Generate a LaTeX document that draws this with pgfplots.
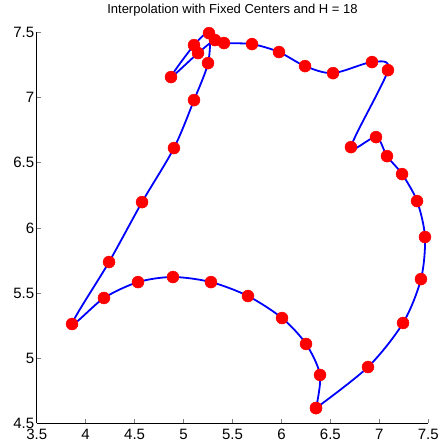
\documentclass[border=0pt]{standalone}
\usepackage{fontspec}
\setmainfont{Liberation Sans}
\usepackage{pgfplots}
\pgfplotsset{compat=1.18}

\pgfplotstableread{
x y
6.353 4.617
6.884 4.932
7.242 5.270
7.425 5.607
7.466 5.930
7.385 6.206
7.232 6.413
7.078 6.551
6.966 6.697
6.710 6.620
7.088 7.211
6.925 7.273
6.527 7.188
6.241 7.242
5.975 7.350
5.699 7.411
5.413 7.419
5.321 7.442
5.148 7.342
4.872 7.158
5.107 7.403
5.260 7.495
5.250 7.265
5.107 6.981
4.902 6.613
4.576 6.198
4.239 5.738
3.861 5.262
4.187 5.462
4.535 5.584
4.892 5.623
5.280 5.584
5.658 5.477
6.006 5.308
6.251 5.109
6.394 4.871
6.353 4.617
}\centers

\begin{document}
\begin{tikzpicture}
\begin{axis}[
    scale only axis,
    width=391.6pt, height=390.8pt,
    xmin=3.5, xmax=7.5, ymin=4.5, ymax=7.5,
    axis x line*=bottom, axis y line*=left,
    tick align=inside,
    major tick length=4pt,
    tick style={line width=0.6pt},
    xtick={3.5,4,...,7.5}, ytick={4.5,5,...,7.5},
    xticklabels={3.5,4,4.5,5,5.5,6,6.5,7,7.5},
    yticklabels={4.5,5,5.5,6,6.5,7,7.5},
    ticklabel style={font=\fontsize{15}{15}\selectfont},
    xticklabel style={yshift=-2pt},
    yticklabel style={xshift=1pt},
    /pgf/number format/assume math mode=true,
    title={Interpolation with Fixed Centers and H = 18},
    title style={font=\fontsize{13}{13}\selectfont, anchor=base, at={(0.5,1)}, yshift=12.5pt},
    axis line style={line width=0.8pt},
    clip=false,
]
\addplot[only marks, mark=*, mark size=6pt, color=red] table {\centers};
\addplot[blue, line width=1.8pt, smooth, tension=0.5, mark=none] table {\centers};
\path (rel axis cs:0,0) ++(-36.7pt,-23.7pt) coordinate (bl);
\path (rel axis cs:1,1) ++(12.7pt,32.5pt) coordinate (tr);
\end{axis}
\pgfresetboundingbox
\path[use as bounding box] (bl) rectangle (tr);
\end{tikzpicture}
\end{document}
